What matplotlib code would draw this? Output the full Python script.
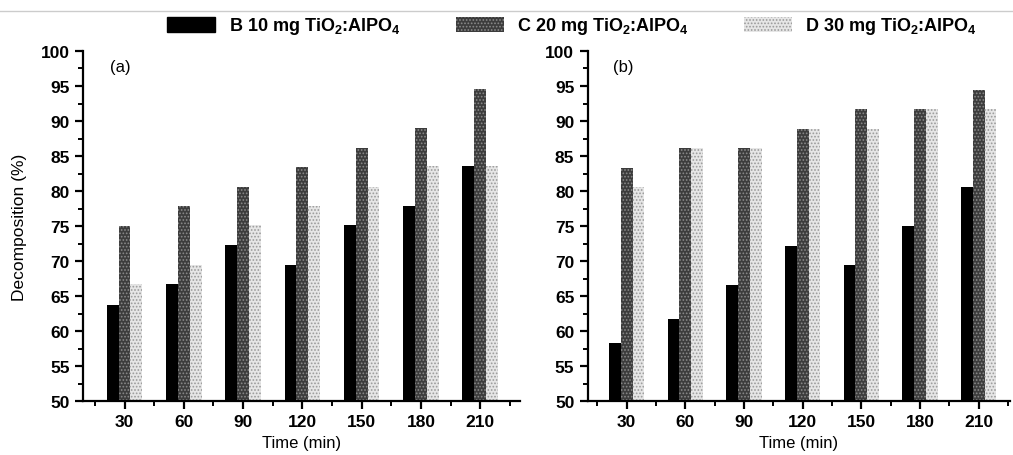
import numpy as np
import matplotlib
matplotlib.use("Agg")
import matplotlib.pyplot as plt
from matplotlib.patches import Patch
from matplotlib.lines import Line2D
from matplotlib.ticker import MultipleLocator

plt.rcParams['font.family'] = ['Liberation Sans', 'DejaVu Sans']
plt.rcParams['mathtext.fontset'] = 'custom'
plt.rcParams['mathtext.rm'] = 'Liberation Sans'
plt.rcParams['mathtext.bf'] = 'Liberation Sans:bold'
plt.rcParams['mathtext.default'] = 'regular'
plt.rcParams['hatch.linewidth'] = 0.8

# data
times = [30, 60, 90, 120, 150, 180, 210]
labels = [r'B 10 mg TiO$_\mathbf{2}$:AlPO$_\mathbf{4}$',
          r'C 20 mg TiO$_\mathbf{2}$:AlPO$_\mathbf{4}$',
          r'D 30 mg TiO$_\mathbf{2}$:AlPO$_\mathbf{4}$']

a_B = [63.8, 66.7, 72.3, 69.5, 75.1, 77.9, 83.6]
a_C = [75.0, 77.8, 80.6, 83.5, 86.2, 89.0, 94.6]
a_D = [66.7, 69.4, 75.1, 77.9, 80.6, 83.6, 83.6]

b_B = [58.3, 61.7, 66.6, 72.2, 69.4, 75.0, 80.6]
b_C = [83.3, 86.1, 86.1, 88.9, 91.7, 91.7, 94.5]
b_D = [80.6, 86.1, 86.1, 88.9, 88.9, 91.7, 91.7]

styles = [dict(color='black'),
          dict(facecolor='#3c3c3c', edgecolor='#8a8a8a', hatch='.....', linewidth=0),
          dict(facecolor='#e6e6e6', edgecolor='#9a9a9a', hatch='.....', linewidth=0)]

fig = plt.figure(figsize=(10.13, 4.56), dpi=100)
ax1 = fig.add_axes([0.082, 0.118, 0.431, 0.768])
ax2 = fig.add_axes([0.580, 0.118, 0.417, 0.768])

# thin page border line at the top
fig.add_artist(Line2D([0, 1], [1 - 12 / 456] * 2, color='#cccccc', lw=1))

w = 6
x = np.array(times)
for ax, series, tag, xlim in [(ax1, [a_B, a_C, a_D], '(a)', (9, 230)),
                              (ax2, [b_B, b_C, b_D], '(b)', (10, 226))]:
    for i, vals in enumerate(series):
        ax.bar(x + (i - 1) * w, np.array(vals) - 50, width=w, bottom=50, **styles[i])
    ax.set_xlim(*xlim)
    ax.set_ylim(50, 100)
    ax.set_xticks(times)
    ax.set_xticks([t + 15 for t in [0] + times], minor=True)
    ax.yaxis.set_major_locator(MultipleLocator(5))
    ax.yaxis.set_minor_locator(MultipleLocator(2.5))
    for s in ['top', 'right']:
        ax.spines[s].set_visible(False)
    for s in ['left', 'bottom']:
        ax.spines[s].set_linewidth(1.6)
    ax.tick_params(which='major', direction='out', length=6, width=1.6, labelsize=12.5)
    ax.tick_params(which='minor', direction='out', length=3.5, width=1.4)
    for lab in ax.get_xticklabels() + ax.get_yticklabels():
        lab.set_fontweight('bold')
    ax.set_xlabel('Time (min)', fontsize=12, labelpad=4)
    ax.text(0.085, 0.955, tag, transform=ax.transAxes, fontsize=12, ha='center', va='center')

ax1.set_ylabel('Decomposition (%)', fontsize=12.5, labelpad=10)

handles = [Patch(**s) for s in styles]
fig.legend(handles, labels, loc='center', bbox_to_anchor=(0.565, 0.941), ncol=3,
           frameon=False, prop={'weight': 'bold', 'size': 13},
           handlelength=2.65, handleheight=0.9, handletextpad=0.75, columnspacing=3.05)

fig.savefig('out.png', dpi=100)
